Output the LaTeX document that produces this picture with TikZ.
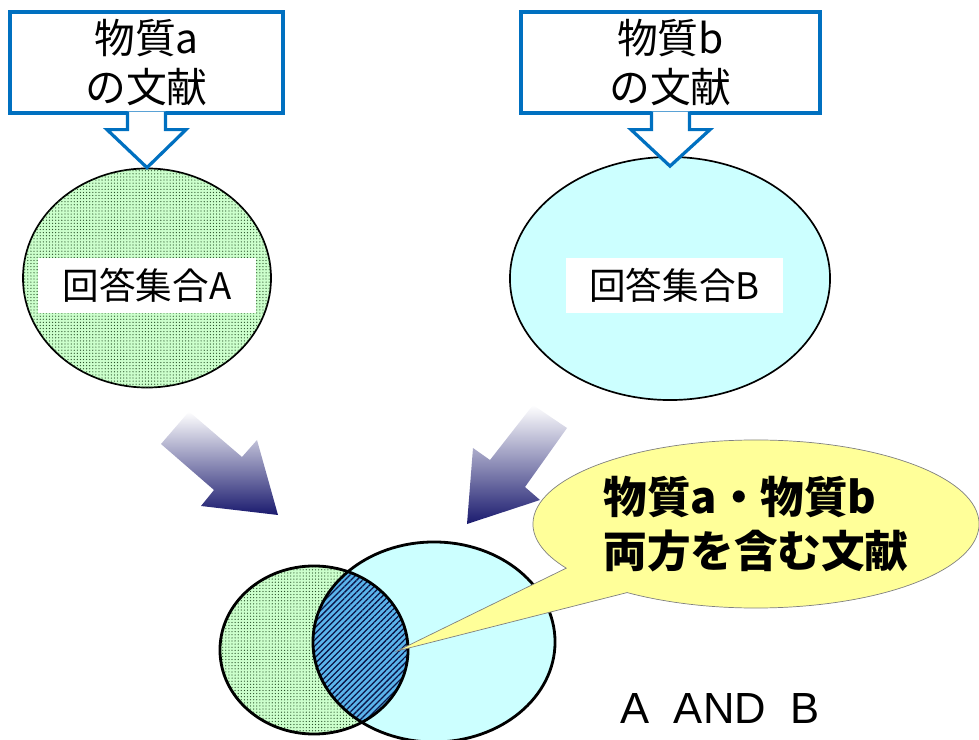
\documentclass[tikz,border=0pt]{standalone}
\usepackage{fontspec}
\setmainfont{Noto Sans CJK JP}
\newfontfamily\latinfont{Liberation Sans}
\usepackage{tikz}
\usetikzlibrary{calc,shapes.geometric,shapes.callouts,patterns.meta}
\definecolor{boxblue}{RGB}{0,112,192}
\definecolor{setgreen}{RGB}{204,255,204}
\definecolor{dotgreen}{RGB}{40,80,40}
\definecolor{setcyan}{RGB}{204,255,255}
\definecolor{overlapblue}{RGB}{90,180,235}
\definecolor{hatchnavy}{RGB}{10,20,70}
\definecolor{navy}{RGB}{26,26,110}
\definecolor{bubbleyellow}{RGB}{255,255,153}
\tikzstyle{srcbox} = [rectangle, draw=boxblue, line width=2.3pt, fill=white, minimum
height=2.525cm, align=center, inner sep=0pt, font=\fontsize{29}{35}\selectfont]
\tikzstyle{blockarrow} = [draw=boxblue, line width=2.3pt, fill=white, line join=miter]
\tikzstyle{setnode} = [ellipse, draw=black, line width=1.2pt, inner sep=0pt]
\tikzstyle{greenfill} = [fill=setgreen, postaction={pattern={Dots[distance=2.2pt, radius=0.45pt]}, pattern color=dotgreen}]
\tikzstyle{cyanfill} = [fill=setcyan]
\tikzstyle{setlabel} = [rectangle, fill=white, minimum width=5.425cm, minimum height=1.375cm,
inner sep=0pt, font=\fontsize{26}{30}\selectfont]
\tikzstyle{fadearrow} = [top color=white, bottom color=navy, draw=none]
\tikzstyle{overlap} = [fill=overlapblue, postaction={pattern={Lines[angle=45, distance=3pt, line width=0.9pt]}, pattern color=hatchnavy}]
\tikzstyle{vennline} = [draw=black, line width=2pt]
\tikzstyle{bubble} = [ellipse callout, draw=black!50, line width=0.5pt, fill=bubbleyellow, minimum
width=11.15cm, minimum height=4.2cm, callout pointer arc=23, inner sep=0pt, align=left,
font=\bfseries\fontsize{31}{38}\selectfont]
\tikzstyle{andtext} = [font=\latinfont\fontsize{31}{34}\selectfont]

\begin{document}
\begin{tikzpicture}[x=0.025cm, y=-0.025cm]
      \useasboundingbox (0,0) rectangle (979,740);

      \node (boxa) [srcbox, minimum width=6.825cm] at (146.5,62.5) {物質a\\の文献};
      \node (boxb) [srcbox, minimum width=7.475cm] at (670.5,62.5) {物質b\\の文献};
      \node (seta) [setnode, greenfill, minimum width=6.2cm, minimum height=5.475cm] at (147,278) {};
      \node (setb) [setnode, cyanfill, minimum width=8cm, minimum height=6.075cm] at (670,278.5) {};
      \node (labela) [setlabel] at ($(seta)+(0,7.5)$) {回答集合A};
      \node (labelb) [setlabel] at ($(setb)+(4.5,7)$) {回答集合B};

      \draw [blockarrow] ($(boxa.south)+(-19,-3)$) -- ($(boxa.south)+(-19,15)$) -- ($(boxa.south)+(-39.5,15)$)
        -- (seta.north) -- ($(boxa.south)+(39.5,15)$) -- ($(boxa.south)+(19,15)$) -- ($(boxa.south)+(19,-3)$);
      \draw [blockarrow] ($(boxb.south)+(-19,-3)$) -- ($(boxb.south)+(-19,15)$) -- ($(boxb.south)+(-39.5,15)$)
        -- ($(setb.north)+(0,10)$) -- ($(boxb.south)+(39.5,15)$) -- ($(boxb.south)+(19,15)$) -- ($(boxb.south)+(19,-3)$);

      \shade [fadearrow] (189,411.5) -- (242,457) -- (257,440) -- (278,515) -- (201,506) -- (214,490) -- (161,444) -- cycle;
      \shade [fadearrow] (533,405) -- (567,428) -- (525,487) -- (540,500) -- (467,524) -- (473,448) -- (490,460) -- cycle;

      \fill [greenfill] (314,650) ellipse [x radius=2.35cm, y radius=2.1cm];
      \fill [cyanfill] (434,642) ellipse [x radius=3.025cm, y radius=2.5cm];
      \begin{scope}
        \clip (314,650) ellipse [x radius=2.35cm, y radius=2.1cm];
        \fill [overlap] (434,642) ellipse [x radius=3.025cm, y radius=2.5cm];
      \end{scope}
      \draw [vennline] (314,650) ellipse [x radius=2.35cm, y radius=2.1cm];
      \draw [vennline] (434,642) ellipse [x radius=3.025cm, y radius=2.5cm];

      \coordinate (hit) at (397,651);
      \node (note) [bubble, callout absolute pointer={(hit)}] at (756,524) {物質a・物質b\\両方を含む文献};
      \node (andlabel) [andtext] at (720,709) {A\ \ AND\ \ B};
    \end{tikzpicture}
\end{document}
